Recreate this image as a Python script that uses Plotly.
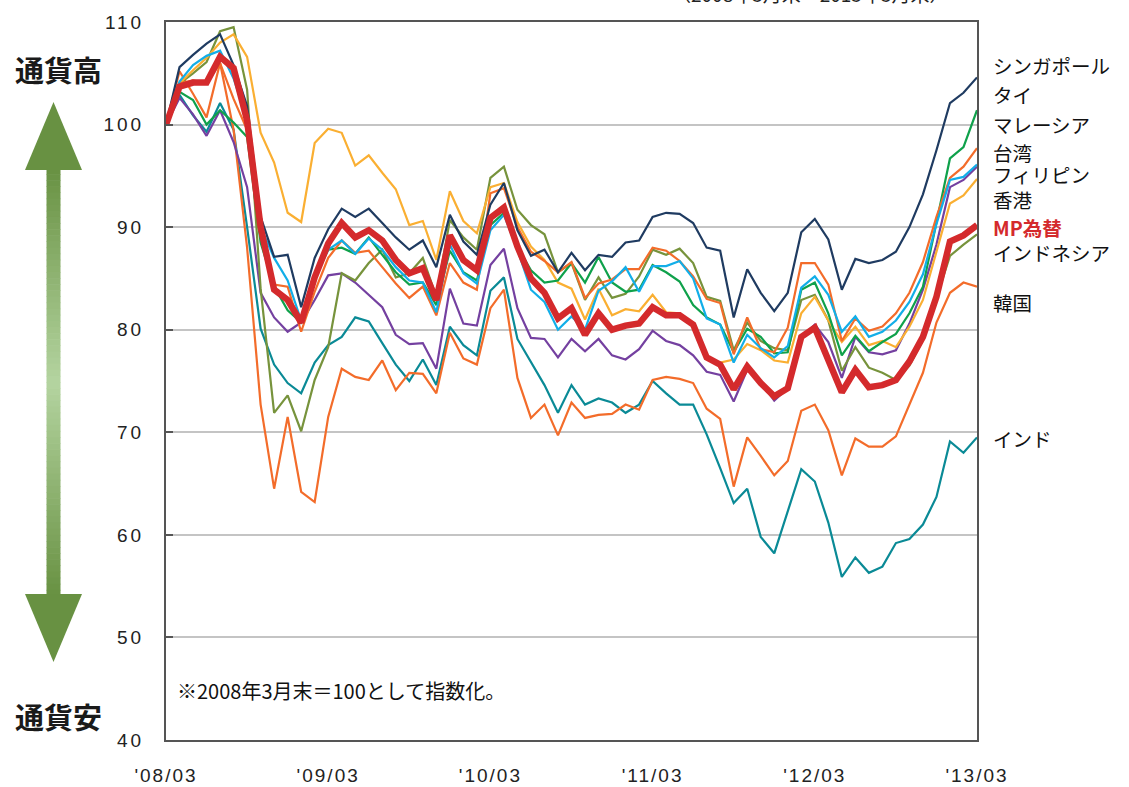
import plotly.graph_objects as go

# Monthly observation labels, 2008/03 .. 2013/03
months = [f"{2008 + (2 + k) // 12}/{(2 + k) % 12 + 1:02d}" for k in range(61)]

tick_months = ["2008/03", "2009/03", "2010/03", "2011/03", "2012/03", "2013/03"]
tick_labels = ["'08/03", "'09/03", "'10/03", "'11/03", "'12/03", "'13/03"]
y_ticks = [40, 50, 60, 70, 80, 90, 100, 110]

singapore = [100, 105.6, 106.8, 107.9, 108.8, 105.8, 101.8, 91.0, 87.1, 87.3, 82.2, 87.0, 89.8, 91.8, 91.0, 91.8,
             90.4, 89.0, 87.8, 88.7, 86.1, 91.2, 88.6, 87.3, 92.2, 94.3, 89.7, 87.2, 87.8, 85.6, 87.5, 85.8,
             87.3, 87.1, 88.5, 88.7, 91.0, 91.4, 91.3, 90.4, 88.0, 87.7, 81.2, 85.9, 83.6, 81.8, 83.6, 89.5,
             90.8, 88.8, 83.9, 86.9, 86.5, 86.8, 87.6, 90.0, 93.2, 97.5, 102.1, 103.1, 104.6]
thailand = [100, 103.2, 102.4, 100.0, 101.4, 100.2, 98.8, 88.5, 84.2, 81.9, 80.7, 85.2, 87.8, 88.0, 87.4, 89.0,
            87.3, 85.6, 84.4, 84.6, 82.4, 87.7, 85.6, 84.8, 90.2, 91.4, 88.1, 85.8, 84.6, 84.8, 86.5, 84.6,
            87.1, 84.6, 83.7, 83.9, 86.3, 85.6, 84.7, 82.4, 81.2, 80.5, 77.8, 80.1, 79.3, 77.7, 77.8, 83.9,
            84.6, 81.6, 77.5, 79.4, 77.9, 78.8, 79.6, 81.6, 84.2, 90.5, 96.7, 97.8, 101.4]
malaysia = [100, 104.0, 104.3, 104.0, 106.0, 102.5, 99.5, 89.5, 84.4, 84.2, 79.8, 83.7, 87.0, 88.7, 87.5, 87.7,
            86.1, 84.5, 83.1, 84.2, 81.4, 86.5, 84.6, 83.9, 93.3, 93.8, 90.0, 87.6, 86.7, 85.6, 86.6, 83.1,
            84.5, 84.9, 85.9, 85.9, 88.0, 87.7, 86.7, 85.2, 83.0, 82.6, 77.6, 81.2, 78.1, 77.8, 80.2, 86.5,
            86.5, 84.4, 78.9, 81.1, 79.9, 80.3, 81.6, 83.6, 86.6, 91.0, 94.8, 95.9, 97.7]
taiwan = [100, 104.2, 105.8, 106.7, 107.2, 104.5, 100.5, 90.0, 87.0, 84.8, 80.9, 85.0, 87.8, 88.7, 87.4, 88.9,
          87.8, 86.1, 84.8, 84.6, 81.7, 88.3, 85.5, 84.5, 89.7, 91.2, 87.8, 83.9, 82.7, 80.0, 81.3, 80.0,
          83.8, 84.7, 86.1, 83.7, 86.2, 86.2, 86.7, 85.0, 81.1, 80.5, 76.8, 79.5, 78.2, 77.3, 78.4, 84.1,
          85.2, 83.4, 79.8, 81.3, 79.3, 79.8, 80.9, 82.7, 85.4, 90.3, 94.6, 94.9, 96.1]
philippines = [100, 102.6, 101.0, 98.9, 101.4, 98.3, 93.9, 83.6, 81.2, 79.8, 80.7, 82.9, 85.3, 85.5, 84.6, 83.4,
               82.2, 79.5, 78.6, 78.7, 76.2, 84.0, 80.6, 80.4, 86.3, 87.9, 82.1, 79.2, 79.1, 77.3, 79.1, 77.9,
               79.1, 77.5, 77.1, 78.1, 79.9, 78.9, 78.5, 77.5, 75.9, 75.6, 73.0, 76.1, 74.9, 73.1, 74.3, 79.3,
               80.5, 78.8, 75.3, 79.3, 77.8, 77.6, 78.0, 80.6, 83.9, 88.3, 93.9, 94.6, 95.9]
hong_kong = [100, 104.0, 105.3, 106.5, 108.0, 108.8, 106.6, 99.2, 96.3, 91.4, 90.5, 98.2, 99.6, 99.2, 96.0, 97.0,
             95.3, 93.7, 90.2, 90.6, 86.8, 93.5, 90.6, 89.4, 93.9, 94.3, 90.5, 88.1, 86.8, 84.6, 84.0, 81.0,
             84.0, 81.4, 82.0, 81.8, 83.4, 81.7, 81.6, 80.5, 77.2, 76.8, 77.1, 78.6, 78.0, 77.0, 76.8, 81.6,
             83.2, 80.9, 78.8, 80.3, 78.5, 78.9, 78.3, 80.3, 82.9, 87.5, 92.3, 93.1, 94.7]
mp_fx = [100, 103.7, 104.1, 104.1, 106.6, 105.5, 100.4, 90.0, 83.9, 82.9, 80.7, 85.1, 88.4, 90.4, 89.0, 89.7,
         88.7, 86.8, 85.5, 86.0, 82.9, 89.2, 86.8, 85.8, 90.9, 91.9, 88.1, 85.0, 83.6, 81.1, 82.1, 79.5,
         81.6, 80.0, 80.4, 80.6, 82.2, 81.4, 81.4, 80.5, 77.3, 76.6, 74.2, 76.4, 74.8, 73.5, 74.3, 79.3,
         80.2, 77.2, 73.9, 76.1, 74.4, 74.6, 75.1, 76.9, 79.3, 83.2, 88.6, 89.2, 90.2]
indonesia = [100, 104.0, 105.0, 106.1, 109.1, 109.5, 103.4, 84.0, 71.9, 73.6, 70.1, 75.1, 78.3, 85.5, 84.8, 86.5,
             87.8, 85.1, 85.5, 87.0, 83.2, 90.7, 89.0, 87.8, 94.8, 95.9, 91.7, 90.2, 89.3, 85.6, 86.5, 82.9,
             85.1, 83.1, 83.5, 85.2, 87.8, 87.3, 87.9, 86.5, 83.2, 82.8, 78.0, 80.7, 78.9, 78.2, 78.0, 82.9,
             83.4, 80.9, 76.0, 78.3, 76.3, 75.8, 75.1, 76.5, 79.0, 83.0, 87.2, 88.3, 89.3]
korea = [100, 105.2, 103.0, 100.7, 106.0, 99.5, 88.0, 72.7, 64.5, 71.5, 64.2, 63.2, 71.5, 76.2, 75.4, 75.1,
         77.0, 74.1, 75.8, 75.7, 73.8, 79.7, 77.2, 76.6, 82.1, 83.9, 75.3, 71.4, 72.7, 69.7, 72.9, 71.4,
         71.7, 71.8, 72.7, 72.2, 75.1, 75.4, 75.2, 74.8, 72.3, 71.3, 64.7, 69.5, 67.7, 65.8, 67.2, 72.1,
         72.7, 70.2, 65.8, 69.4, 68.6, 68.6, 69.6, 72.7, 75.8, 80.7, 83.6, 84.6, 84.2]
india = [100, 102.9, 100.9, 99.3, 102.1, 99.5, 90.0, 80.1, 76.6, 74.8, 73.8, 76.8, 78.5, 79.3, 81.2, 80.8,
         78.7, 76.6, 75.0, 77.1, 74.6, 80.3, 78.5, 77.5, 83.8, 85.1, 79.1, 76.8, 74.6, 71.9, 74.6, 72.7,
         73.3, 72.9, 71.9, 72.7, 75.0, 73.8, 72.7, 72.7, 69.8, 66.5, 63.1, 64.5, 59.8, 58.2, 62.2, 66.4,
         65.2, 61.2, 55.9, 57.8, 56.3, 56.9, 59.2, 59.6, 61.0, 63.7, 69.1, 68.0, 69.5]

# (name, values, colour, width) in drawing order, bottom to top
series = [
    ("インド", india, "#0A8A96", 2.2),
    ("韓国", korea, "#F36C2A", 2.2),
    ("フィリピン", philippines, "#7440A0", 2.2),
    ("インドネシア", indonesia, "#77933C", 2.2),
    ("香港", hong_kong, "#FAAF32", 2.2),
    ("タイ", thailand, "#0FA14B", 2.2),
    ("マレーシア", malaysia, "#F36C2A", 2.2),
    ("台湾", taiwan, "#12AEE8", 2.2),
    ("シンガポール", singapore, "#1F3B61", 2.2),
    ("MP為替", mp_fx, "#D42A2C", 6.5),
]

# right-hand series labels: (text, value level, colour, bold)
end_labels = [
    ("シンガポール", 105.8, "#111111", False),
    ("タイ", 102.9, "#111111", False),
    ("マレーシア", 100.0, "#111111", False),
    ("台湾", 97.3, "#111111", False),
    ("フィリピン", 95.1, "#111111", False),
    ("香港", 92.7, "#111111", False),
    ("MP為替", 90.0, "#D42A2C", True),
    ("インドネシア", 87.5, "#111111", False),
    ("韓国", 82.7, "#111111", False),
    ("インド", 69.4, "#111111", False),
]

W, H = 1129, 787
L, R, T, B = 166, 152, 22, 47
PW, PH = W - L - R, H - T - B


def px(x):
    return (x - L) / PW


def py(y):
    return (H - B - y) / PH


fig = go.Figure()
for name, vals, color, width in series:
    fig.add_trace(go.Scatter(x=months, y=vals, mode="lines", name=name,
                             line=dict(color=color, width=width), showlegend=False))

num_font = "Liberation Sans, Arial, sans-serif"
jp_font = "Noto Sans CJK JP, sans-serif"

fig.update_layout(
    width=W, height=H,
    margin=dict(l=L, r=R, t=T, b=B, autoexpand=False),
    paper_bgcolor="white", plot_bgcolor="white",
    xaxis=dict(
        type="category", range=[0, 60], automargin=False,
        tickvals=tick_months,
        ticktext=[f'<span style="letter-spacing:2px">{t}</span>' for t in tick_labels],
        tickfont=dict(family=num_font, size=19, color="#222222"),
        ticks="", showgrid=False, zeroline=False,
        showline=True, linecolor="#555555", linewidth=2, mirror=True,
        ticklabelstandoff=17,
    ),
    yaxis=dict(
        range=[40, 110], tickvals=y_ticks, automargin=False,
        ticktext=[f'<span style="letter-spacing:3px">{v}</span>' for v in y_ticks],
        tickfont=dict(family=num_font, size=19, color="#222222"),
        ticks="inside", ticklen=7, tickwidth=2, tickcolor="#555555",
        showgrid=True, gridcolor="#C4C4C4", gridwidth=2, zeroline=False,
        showline=True, linecolor="#555555", linewidth=2, mirror=True,
        ticklabelstandoff=16,
    ),
)

for text, level, color, bold in end_labels:
    fig.add_annotation(
        x=1, xref="paper", y=level, yref="y", xanchor="left", yanchor="middle",
        xshift=14, showarrow=False,
        text=f"<b>{text}</b>" if bold else text,
        font=dict(family=jp_font, size=19.5, color=color),
    )

fig.add_annotation(
    x=0, xref="paper", y=py(690), yref="paper", xanchor="left", yanchor="middle",
    xshift=9, showarrow=False, text="※2008年3月末＝100として指数化。",
    font=dict(family=jp_font, size=20, color="#111111"),
)

fig.add_annotation(
    x=px(810), xref="paper", y=1, yref="paper", xanchor="center", yanchor="bottom",
    yshift=13, showarrow=False, text="（2008年3月末～2013年3月末）",
    font=dict(family=jp_font, size=19, color="#222222"),
)

for text, ycen in [("通貨高", 69), ("通貨安", 716)]:
    fig.add_annotation(
        x=px(58), xref="paper", y=py(ycen), yref="paper", xanchor="center", yanchor="middle",
        showarrow=False, text=f"<b>{text}</b>",
        font=dict(family=jp_font, size=29, color="#1A1A1A"),
    )

# double-headed arrow with a dark-light-dark green shaft
dark = (104, 145, 66)
light = (180, 212, 160)
shaft_top, shaft_bot = 168, 596
n = 70
step = (shaft_bot - shaft_top) / n
mid = (shaft_top + shaft_bot) / 2
for k in range(n):
    y0 = shaft_top + k * step
    yc = y0 + step / 2
    t = min(1.0, abs(yc - mid) / (mid - shaft_top))
    c = tuple(round(light[j] * (1 - t) + dark[j] * t) for j in range(3))
    fig.add_shape(type="rect", xref="paper", yref="paper",
                  x0=px(46.5), x1=px(60.5), y0=py(y0 + step + 0.6), y1=py(y0),
                  fillcolor=f"rgb{c}", line=dict(width=0), layer="above")

head_color = "rgb(104,145,66)"
for tip, base in [(102, 170), (662, 594)]:
    path = (f"M {px(53.5)},{py(tip)} L {px(25)},{py(base)} L {px(82)},{py(base)} Z")
    fig.add_shape(type="path", xref="paper", yref="paper", path=path,
                  fillcolor=head_color, line=dict(width=0), layer="above")

fig.write_html("out.html")
